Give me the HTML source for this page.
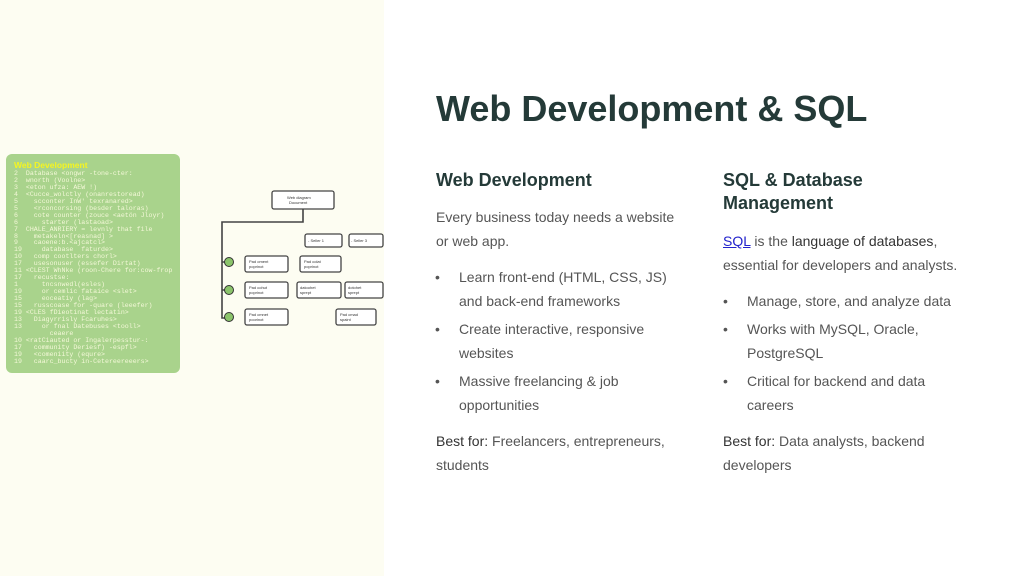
<!DOCTYPE html>
<html><head><style>
body{margin:0;width:1024px;height:576px;position:relative;background:#fff;font-family:"Liberation Sans",sans-serif;overflow:hidden}
.left{position:absolute;left:0;top:0;width:384px;height:576px;background:#fdfdf2}
.code{position:absolute;left:6px;top:154px;width:174px;height:219px;background:#a9d38c;border-radius:6px;font-family:"Liberation Mono",monospace;font-size:6.6px;line-height:6.95px;color:#f4f8d8;padding:8px 0 0 8px;box-sizing:border-box;white-space:pre;overflow:hidden}
.code b{color:#f5f520;font-size:8.5px;font-family:"Liberation Sans",sans-serif}
h1{position:absolute;left:436px;top:88px;margin:0;font-size:36px;color:#243a38;font-weight:bold}
h2{position:absolute;margin:0;font-size:18px;font-weight:bold;color:#243a38;line-height:23px}
.p{position:absolute;font-size:14px;line-height:24px;color:#555;width:250px}
.p b{color:#333;font-weight:normal}
.li{position:absolute;font-size:14px;line-height:24px;color:#555;width:225px}
.li:before{content:"•";position:absolute;left:-24px}
</style></head><body>
<div class="left"></div>
<div class="code"><b>Web Development</b>
2  Database &lt;ongwr -tone-cter:
2  wnorth (Voolne&gt;
3  &lt;eton ufza: AEW !)
4  &lt;Cucce_wolctly (onanrestoread)
5    scconter InW' texranared&gt;
5    &lt;rconcorsing (besder taloras)
6    cote counter (zouce &lt;aetön Jloyr)
6      starter (lastaoad&gt;
7  CHALE_ANRIERY = levnly that file
8    metakeln&lt;[reasnad] &gt;
9    caoene:b.&lt;ajcatcl&gt;
19     database  faturde&gt;
10   comp cootlters chorl&gt;
17   usesonuser (essefer Dirtat)
11 &lt;CLEST WhNke (roon-Chere for:cow-frop
17   recustse:
1      tncsnwedl(esles)
19     or cemlic fataice &lt;slet&gt;
15     eoceatiy (lag&gt;
15   russcoase for -quare (leeefer)
19 &lt;CLES fDieotinat lectatin&gt;
13   Diagyrrisly Fcaruhes&gt;
13     or fnal Datebuses &lt;tooll&gt;
         ceaere
10 &lt;ratCiauted or Ingalerpesstur-:
17   community Deriesf) -espfl&gt;
19   &lt;comeniity (equre&gt;
19   caarc_bucty in-Cetereereeers&gt;</div>
<svg style="position:absolute;left:0;top:0" width="384" height="576">
<g fill="none" stroke="#444" stroke-width="1.6">
<path d="M303 209 V222 H222 V318 H232"/>
<path d="M222 262 H232 M222 290 H232"/>
</g>
<g fill="#8bc46b" stroke="#333" stroke-width="1"><circle cx="229" cy="262" r="4.5"/><circle cx="229" cy="290" r="4.5"/><circle cx="229" cy="317" r="4.5"/></g>
<g fill="#fff" stroke="#444" stroke-width="1.3">
<rect x="272" y="191" width="62" height="18" rx="2"/>
<rect x="305" y="234" width="37" height="13" rx="2"/><rect x="349" y="234" width="34" height="13" rx="2"/>
<rect x="245" y="256" width="43" height="16" rx="2"/><rect x="300" y="256" width="41" height="16" rx="2"/>
<rect x="245" y="282" width="43" height="16" rx="2"/><rect x="297" y="282" width="44" height="16" rx="2"/><rect x="345" y="282" width="38" height="16" rx="2"/>
<rect x="245" y="309" width="43" height="16" rx="2"/><rect x="336" y="309" width="40" height="16" rx="2"/>
</g>
<g font-size="4" fill="#333" font-family="Liberation Sans">
<text x="287" y="199">Web diagram</text><text x="289" y="204">Document</text>
<text x="308" y="242">- Seller 1</text><text x="351" y="242">- Seller 3</text>
<text x="249" y="263">Pad oment</text><text x="249" y="268">poprinot</text>
<text x="304" y="263">Pad colat</text><text x="304" y="268">poprinot</text>
<text x="249" y="289">Pad cohut</text><text x="249" y="294">poprinot</text>
<text x="300" y="289">datoohet</text><text x="300" y="294">sprept</text>
<text x="348" y="289">dotohet</text><text x="348" y="294">sprept</text>
<text x="249" y="316">Pad cmnet</text><text x="249" y="321">poorinot</text>
<text x="340" y="316">Pad cmad</text><text x="340" y="321">spaint</text>
</g>
</svg>
<h1>Web Development &amp; SQL</h1>
<h2 style="left:436px;top:169px">Web Development</h2>
<div class="p" style="left:436px;top:205px">Every business today needs a website or web app.</div>
<div class="li" style="left:459px;top:265px">Learn front-end (HTML, CSS, JS) and back-end frameworks</div>
<div class="li" style="left:459px;top:317px">Create interactive, responsive websites</div>
<div class="li" style="left:459px;top:369px">Massive freelancing &amp; job opportunities</div>
<div class="p" style="left:436px;top:429px"><b>Best for:</b> Freelancers, entrepreneurs, students</div>
<h2 style="left:723px;top:169px">SQL &amp; Database<br>Management</h2>
<div class="p" style="left:723px;top:229px;width:240px"><span style="color:#2222cc;text-decoration:underline">SQL</span> is the <b>language of databases</b>, essential for developers and analysts.</div>
<div class="li" style="left:747px;top:289px">Manage, store, and analyze data</div>
<div class="li" style="left:747px;top:317px">Works with MySQL, Oracle, PostgreSQL</div>
<div class="li" style="left:747px;top:369px;width:200px">Critical for backend and data careers</div>
<div class="p" style="left:723px;top:429px;width:220px"><b>Best for:</b> Data analysts, backend developers</div>
</body></html>
